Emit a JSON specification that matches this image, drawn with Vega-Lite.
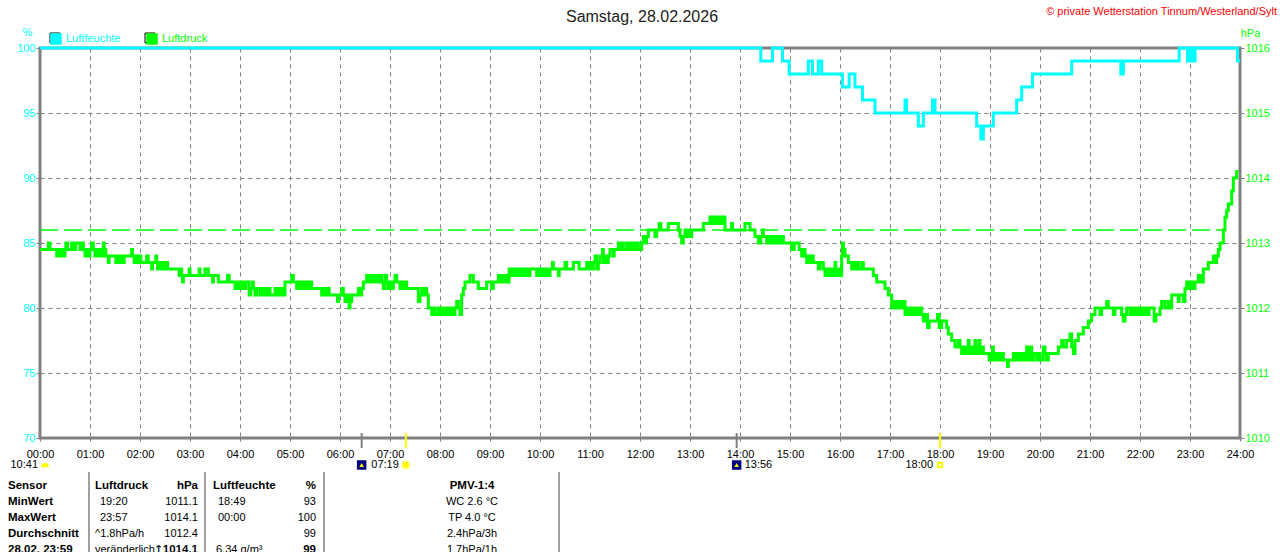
{
"$schema":"https://vega.github.io/schema/vega-lite/v6.json",
"autosize":{"type":"none"},
"width":1200,"height":390,
"padding":{"left":40,"top":48,"right":40,"bottom":114},
"background":"white",
"title":{"text":"Samstag, 28.02.2026","font":"Liberation Sans","fontSize":16,"fontWeight":"normal","color":"#222222","anchor":"middle","frame":"group","dx":2,"offset":-19},
"config":{"view":{"stroke":"#808080","strokeWidth":3},"font":"Liberation Sans"},
"datasets":{
"humidity":[{"t":0,"h":100},{"t":865,"h":99},{"t":879,"h":100},{"t":891,"h":99},{"t":899,"h":98},{"t":922,"h":99},{"t":927,"h":98},{"t":934,"h":99},{"t":938,"h":98},{"t":963,"h":97},{"t":971,"h":98},{"t":978,"h":97},{"t":987,"h":96},{"t":1002,"h":95},{"t":1038,"h":96},{"t":1040,"h":95},{"t":1054,"h":94},{"t":1060,"h":95},{"t":1071,"h":96},{"t":1074,"h":95},{"t":1124,"h":94},{"t":1129,"h":93},{"t":1132,"h":94},{"t":1144,"h":95},{"t":1172,"h":96},{"t":1178,"h":97},{"t":1191,"h":98},{"t":1238,"h":99},{"t":1297,"h":98},{"t":1300,"h":99},{"t":1367,"h":100},{"t":1377,"h":99},{"t":1379,"h":100},{"t":1380,"h":99},{"t":1382,"h":100},{"t":1384,"h":99},{"t":1386,"h":100},{"t":1437,"h":99},{"t":1440,"h":99}],
"pressure":[{"t":0,"p":1012.9},{"t":10,"p":1013.0},{"t":12,"p":1012.9},{"t":20,"p":1012.8},{"t":22,"p":1012.9},{"t":24,"p":1012.8},{"t":26,"p":1012.9},{"t":28,"p":1012.8},{"t":30,"p":1012.9},{"t":31,"p":1013.0},{"t":33,"p":1012.9},{"t":38,"p":1013.0},{"t":41,"p":1012.9},{"t":43,"p":1013.0},{"t":48,"p":1012.9},{"t":50,"p":1013.0},{"t":52,"p":1012.9},{"t":54,"p":1012.8},{"t":56,"p":1012.9},{"t":58,"p":1012.8},{"t":60,"p":1012.9},{"t":62,"p":1013.0},{"t":64,"p":1012.9},{"t":66,"p":1012.8},{"t":68,"p":1012.9},{"t":70,"p":1012.8},{"t":72,"p":1012.9},{"t":74,"p":1012.8},{"t":76,"p":1013.0},{"t":77,"p":1012.9},{"t":79,"p":1012.8},{"t":82,"p":1012.7},{"t":83,"p":1012.8},{"t":91,"p":1012.7},{"t":93,"p":1012.8},{"t":95,"p":1012.7},{"t":97,"p":1012.8},{"t":99,"p":1012.7},{"t":101,"p":1012.8},{"t":110,"p":1012.9},{"t":111,"p":1012.8},{"t":113,"p":1012.7},{"t":115,"p":1012.8},{"t":117,"p":1012.7},{"t":119,"p":1012.8},{"t":121,"p":1012.7},{"t":128,"p":1012.8},{"t":130,"p":1012.7},{"t":134,"p":1012.6},{"t":135,"p":1012.7},{"t":139,"p":1012.8},{"t":140,"p":1012.7},{"t":141,"p":1012.6},{"t":143,"p":1012.7},{"t":145,"p":1012.6},{"t":147,"p":1012.7},{"t":149,"p":1012.6},{"t":151,"p":1012.7},{"t":153,"p":1012.6},{"t":167,"p":1012.5},{"t":169,"p":1012.6},{"t":170,"p":1012.5},{"t":171,"p":1012.4},{"t":172,"p":1012.5},{"t":179,"p":1012.6},{"t":180,"p":1012.5},{"t":191,"p":1012.6},{"t":192,"p":1012.5},{"t":198,"p":1012.6},{"t":202,"p":1012.5},{"t":207,"p":1012.4},{"t":208,"p":1012.5},{"t":214,"p":1012.4},{"t":225,"p":1012.5},{"t":227,"p":1012.4},{"t":234,"p":1012.3},{"t":235,"p":1012.4},{"t":237,"p":1012.3},{"t":239,"p":1012.4},{"t":241,"p":1012.3},{"t":243,"p":1012.4},{"t":245,"p":1012.3},{"t":247,"p":1012.4},{"t":251,"p":1012.2},{"t":253,"p":1012.3},{"t":255,"p":1012.4},{"t":256,"p":1012.3},{"t":258,"p":1012.2},{"t":260,"p":1012.3},{"t":264,"p":1012.2},{"t":267,"p":1012.3},{"t":270,"p":1012.2},{"t":273,"p":1012.3},{"t":276,"p":1012.2},{"t":282,"p":1012.3},{"t":285,"p":1012.2},{"t":288,"p":1012.3},{"t":291,"p":1012.2},{"t":294,"p":1012.4},{"t":302,"p":1012.5},{"t":304,"p":1012.4},{"t":308,"p":1012.3},{"t":311,"p":1012.4},{"t":314,"p":1012.3},{"t":317,"p":1012.4},{"t":320,"p":1012.3},{"t":323,"p":1012.4},{"t":326,"p":1012.3},{"t":338,"p":1012.2},{"t":340,"p":1012.3},{"t":342,"p":1012.2},{"t":345,"p":1012.3},{"t":347,"p":1012.2},{"t":357,"p":1012.1},{"t":358,"p":1012.2},{"t":362,"p":1012.3},{"t":364,"p":1012.2},{"t":366,"p":1012.1},{"t":368,"p":1012.2},{"t":371,"p":1012.0},{"t":372,"p":1012.1},{"t":374,"p":1012.2},{"t":382,"p":1012.3},{"t":384,"p":1012.2},{"t":386,"p":1012.3},{"t":388,"p":1012.4},{"t":392,"p":1012.5},{"t":395,"p":1012.4},{"t":397,"p":1012.5},{"t":400,"p":1012.4},{"t":402,"p":1012.5},{"t":405,"p":1012.4},{"t":407,"p":1012.5},{"t":410,"p":1012.4},{"t":412,"p":1012.3},{"t":414,"p":1012.5},{"t":416,"p":1012.4},{"t":418,"p":1012.3},{"t":420,"p":1012.4},{"t":422,"p":1012.3},{"t":424,"p":1012.4},{"t":426,"p":1012.5},{"t":428,"p":1012.4},{"t":432,"p":1012.3},{"t":434,"p":1012.4},{"t":436,"p":1012.3},{"t":438,"p":1012.4},{"t":440,"p":1012.3},{"t":454,"p":1012.1},{"t":456,"p":1012.2},{"t":458,"p":1012.3},{"t":460,"p":1012.2},{"t":462,"p":1012.3},{"t":464,"p":1012.2},{"t":466,"p":1012.0},{"t":470,"p":1011.9},{"t":472,"p":1012.0},{"t":474,"p":1011.9},{"t":478,"p":1012.0},{"t":480,"p":1011.9},{"t":482,"p":1012.0},{"t":485,"p":1011.9},{"t":488,"p":1012.0},{"t":490,"p":1011.9},{"t":493,"p":1012.0},{"t":496,"p":1011.9},{"t":498,"p":1012.0},{"t":500,"p":1012.1},{"t":502,"p":1012.0},{"t":504,"p":1011.9},{"t":506,"p":1012.2},{"t":508,"p":1012.3},{"t":510,"p":1012.4},{"t":516,"p":1012.5},{"t":520,"p":1012.4},{"t":526,"p":1012.3},{"t":536,"p":1012.4},{"t":542,"p":1012.3},{"t":544,"p":1012.4},{"t":550,"p":1012.5},{"t":552,"p":1012.4},{"t":554,"p":1012.5},{"t":556,"p":1012.4},{"t":558,"p":1012.5},{"t":560,"p":1012.4},{"t":563,"p":1012.6},{"t":565,"p":1012.5},{"t":567,"p":1012.6},{"t":569,"p":1012.5},{"t":571,"p":1012.6},{"t":573,"p":1012.5},{"t":575,"p":1012.6},{"t":577,"p":1012.5},{"t":579,"p":1012.6},{"t":581,"p":1012.5},{"t":583,"p":1012.6},{"t":585,"p":1012.5},{"t":588,"p":1012.6},{"t":596,"p":1012.5},{"t":598,"p":1012.6},{"t":600,"p":1012.5},{"t":603,"p":1012.6},{"t":605,"p":1012.5},{"t":608,"p":1012.6},{"t":610,"p":1012.5},{"t":612,"p":1012.6},{"t":615,"p":1012.7},{"t":616,"p":1012.6},{"t":622,"p":1012.5},{"t":623,"p":1012.6},{"t":630,"p":1012.7},{"t":632,"p":1012.6},{"t":640,"p":1012.7},{"t":647,"p":1012.6},{"t":656,"p":1012.7},{"t":658,"p":1012.6},{"t":660,"p":1012.7},{"t":662,"p":1012.6},{"t":664,"p":1012.7},{"t":666,"p":1012.8},{"t":668,"p":1012.6},{"t":670,"p":1012.7},{"t":672,"p":1012.8},{"t":675,"p":1012.9},{"t":676,"p":1012.7},{"t":678,"p":1012.8},{"t":680,"p":1012.7},{"t":682,"p":1012.8},{"t":684,"p":1012.9},{"t":688,"p":1012.8},{"t":689,"p":1012.9},{"t":694,"p":1013.0},{"t":696,"p":1012.9},{"t":698,"p":1013.0},{"t":700,"p":1012.9},{"t":704,"p":1013.0},{"t":707,"p":1012.9},{"t":710,"p":1013.0},{"t":713,"p":1012.9},{"t":716,"p":1013.0},{"t":718,"p":1012.9},{"t":722,"p":1013.0},{"t":724,"p":1013.1},{"t":726,"p":1013.0},{"t":728,"p":1013.1},{"t":730,"p":1013.2},{"t":738,"p":1013.1},{"t":740,"p":1013.2},{"t":743,"p":1013.3},{"t":745,"p":1013.2},{"t":754,"p":1013.3},{"t":766,"p":1013.2},{"t":768,"p":1013.1},{"t":770,"p":1013.0},{"t":772,"p":1013.1},{"t":774,"p":1013.2},{"t":776,"p":1013.1},{"t":778,"p":1013.2},{"t":780,"p":1013.1},{"t":782,"p":1013.2},{"t":796,"p":1013.3},{"t":804,"p":1013.4},{"t":807,"p":1013.3},{"t":809,"p":1013.4},{"t":812,"p":1013.3},{"t":814,"p":1013.4},{"t":817,"p":1013.3},{"t":820,"p":1013.4},{"t":822,"p":1013.2},{"t":830,"p":1013.3},{"t":831,"p":1013.2},{"t":846,"p":1013.3},{"t":852,"p":1013.2},{"t":858,"p":1013.1},{"t":862,"p":1013.0},{"t":865,"p":1013.1},{"t":867,"p":1013.2},{"t":868,"p":1013.1},{"t":872,"p":1013.0},{"t":875,"p":1013.1},{"t":878,"p":1013.0},{"t":880,"p":1013.1},{"t":883,"p":1013.0},{"t":885,"p":1013.1},{"t":888,"p":1013.0},{"t":890,"p":1013.1},{"t":892,"p":1013.0},{"t":902,"p":1012.9},{"t":905,"p":1013.0},{"t":911,"p":1012.9},{"t":914,"p":1012.8},{"t":916,"p":1012.9},{"t":918,"p":1012.8},{"t":920,"p":1012.7},{"t":922,"p":1012.8},{"t":924,"p":1012.7},{"t":926,"p":1012.8},{"t":928,"p":1012.7},{"t":934,"p":1012.6},{"t":936,"p":1012.7},{"t":940,"p":1012.6},{"t":942,"p":1012.5},{"t":945,"p":1012.6},{"t":947,"p":1012.5},{"t":950,"p":1012.6},{"t":952,"p":1012.5},{"t":954,"p":1012.7},{"t":955,"p":1012.5},{"t":958,"p":1012.6},{"t":960,"p":1012.5},{"t":962,"p":1012.8},{"t":963,"p":1013.0},{"t":964,"p":1012.9},{"t":966,"p":1012.8},{"t":970,"p":1012.7},{"t":974,"p":1012.6},{"t":976,"p":1012.7},{"t":978,"p":1012.6},{"t":981,"p":1012.7},{"t":983,"p":1012.6},{"t":987,"p":1012.7},{"t":988,"p":1012.6},{"t":1000,"p":1012.5},{"t":1004,"p":1012.4},{"t":1014,"p":1012.3},{"t":1018,"p":1012.2},{"t":1022,"p":1012.0},{"t":1024,"p":1012.1},{"t":1026,"p":1012.0},{"t":1028,"p":1012.1},{"t":1030,"p":1012.0},{"t":1032,"p":1012.1},{"t":1034,"p":1012.0},{"t":1036,"p":1012.1},{"t":1038,"p":1011.9},{"t":1040,"p":1012.0},{"t":1042,"p":1011.9},{"t":1044,"p":1012.0},{"t":1046,"p":1011.9},{"t":1048,"p":1012.0},{"t":1050,"p":1011.9},{"t":1052,"p":1012.0},{"t":1054,"p":1011.9},{"t":1056,"p":1012.0},{"t":1058,"p":1011.9},{"t":1060,"p":1011.8},{"t":1063,"p":1011.9},{"t":1065,"p":1011.7},{"t":1067,"p":1011.8},{"t":1077,"p":1011.9},{"t":1079,"p":1011.7},{"t":1082,"p":1011.8},{"t":1088,"p":1011.7},{"t":1090,"p":1011.6},{"t":1094,"p":1011.5},{"t":1098,"p":1011.4},{"t":1102,"p":1011.5},{"t":1104,"p":1011.4},{"t":1106,"p":1011.3},{"t":1108,"p":1011.4},{"t":1110,"p":1011.3},{"t":1112,"p":1011.4},{"t":1114,"p":1011.5},{"t":1115,"p":1011.3},{"t":1118,"p":1011.4},{"t":1120,"p":1011.3},{"t":1122,"p":1011.5},{"t":1123,"p":1011.3},{"t":1125,"p":1011.4},{"t":1127,"p":1011.5},{"t":1128,"p":1011.3},{"t":1130,"p":1011.4},{"t":1132,"p":1011.3},{"t":1139,"p":1011.2},{"t":1141,"p":1011.3},{"t":1143,"p":1011.4},{"t":1144,"p":1011.2},{"t":1146,"p":1011.3},{"t":1148,"p":1011.2},{"t":1150,"p":1011.3},{"t":1152,"p":1011.2},{"t":1154,"p":1011.3},{"t":1156,"p":1011.2},{"t":1161,"p":1011.1},{"t":1162,"p":1011.2},{"t":1168,"p":1011.3},{"t":1170,"p":1011.2},{"t":1172,"p":1011.3},{"t":1174,"p":1011.2},{"t":1176,"p":1011.3},{"t":1178,"p":1011.2},{"t":1180,"p":1011.3},{"t":1182,"p":1011.2},{"t":1184,"p":1011.4},{"t":1186,"p":1011.2},{"t":1188,"p":1011.4},{"t":1190,"p":1011.2},{"t":1192,"p":1011.3},{"t":1196,"p":1011.2},{"t":1198,"p":1011.3},{"t":1200,"p":1011.2},{"t":1204,"p":1011.4},{"t":1206,"p":1011.3},{"t":1208,"p":1011.2},{"t":1210,"p":1011.3},{"t":1222,"p":1011.4},{"t":1226,"p":1011.5},{"t":1228,"p":1011.4},{"t":1232,"p":1011.5},{"t":1236,"p":1011.6},{"t":1238,"p":1011.4},{"t":1240,"p":1011.3},{"t":1242,"p":1011.5},{"t":1246,"p":1011.6},{"t":1252,"p":1011.7},{"t":1258,"p":1011.8},{"t":1262,"p":1011.9},{"t":1266,"p":1012.0},{"t":1272,"p":1011.9},{"t":1274,"p":1012.0},{"t":1280,"p":1012.1},{"t":1282,"p":1012.0},{"t":1288,"p":1011.9},{"t":1290,"p":1012.0},{"t":1298,"p":1011.9},{"t":1300,"p":1011.8},{"t":1302,"p":1011.9},{"t":1304,"p":1012.0},{"t":1308,"p":1011.9},{"t":1311,"p":1012.0},{"t":1313,"p":1011.9},{"t":1316,"p":1012.0},{"t":1318,"p":1011.9},{"t":1321,"p":1012.0},{"t":1323,"p":1011.9},{"t":1326,"p":1012.0},{"t":1328,"p":1011.9},{"t":1331,"p":1012.0},{"t":1337,"p":1011.8},{"t":1339,"p":1011.9},{"t":1344,"p":1012.0},{"t":1346,"p":1012.1},{"t":1350,"p":1012.0},{"t":1354,"p":1012.1},{"t":1356,"p":1012.0},{"t":1358,"p":1012.2},{"t":1366,"p":1012.1},{"t":1367,"p":1012.2},{"t":1372,"p":1012.1},{"t":1374,"p":1012.3},{"t":1376,"p":1012.4},{"t":1379,"p":1012.3},{"t":1381,"p":1012.4},{"t":1384,"p":1012.3},{"t":1386,"p":1012.4},{"t":1390,"p":1012.5},{"t":1393,"p":1012.4},{"t":1396,"p":1012.6},{"t":1402,"p":1012.7},{"t":1408,"p":1012.8},{"t":1410,"p":1012.7},{"t":1412,"p":1012.8},{"t":1414,"p":1012.9},{"t":1416,"p":1013.0},{"t":1420,"p":1013.2},{"t":1422,"p":1013.4},{"t":1424,"p":1013.5},{"t":1426,"p":1013.6},{"t":1430,"p":1013.8},{"t":1432,"p":1014.0},{"t":1436,"p":1014.1},{"t":1438,"p":1014.1}],
"trend":[{"t":0,"p":1013.2},{"t":1422,"p":1013.2}],
"sunTicks":[{"t":439,"from":1,"to":2},{"t":1080,"from":1,"to":2}],
"moonTicks":[{"t":386,"from":1,"to":2},{"t":836,"from":1,"to":2}],
"eventsBefore":[{"t":6,"line":3,"text":"10:41"},{"t":439,"line":3,"text":"07:19"},{"t":1080,"line":3,"text":"18:00"}],
"eventsAfter":[{"t":836,"line":3,"text":"13:56"}],
"moonIcons":[{"t":386,"line":3},{"t":836,"line":3}],
"swatches":[{"t":18,"line":0},{"t":132,"line":0}],
"separators":[{"col":2,"from":4,"to":10},{"col":7,"from":4,"to":10},{"col":12,"from":4,"to":10},{"col":14,"from":4,"to":10}],
"leftBold":[{"col":1,"line":5,"text":"Sensor"},{"col":1,"line":6,"text":"MinWert"},{"col":1,"line":7,"text":"MaxWert"},{"col":1,"line":8,"text":"Durchschnitt"},{"col":1,"line":9,"text":"28.02. 23:59"},{"col":3,"line":5,"text":"Luftdruck"},{"col":8,"line":5,"text":"Luftfeuchte"}],
"leftPlain":[{"col":4,"line":6,"text":"19:20"},{"col":4,"line":7,"text":"23:57"},{"col":3,"line":8,"text":"^1.8hPa/h"},{"col":3,"line":9,"text":"veränderlich"},{"col":10,"line":6,"text":"18:49"},{"col":10,"line":7,"text":"00:00"},{"col":9,"line":9,"text":"6.34 g/m³"}],
"arrow":[{"col":5,"line":9,"text":"↑"}],
"rightBold":[{"col":6,"line":5,"text":"hPa"},{"col":6,"line":9,"text":"1014.1"},{"col":11,"line":5,"text":"%"},{"col":11,"line":9,"text":"99"}],
"rightPlain":[{"col":6,"line":6,"text":"1011.1"},{"col":6,"line":7,"text":"1014.1"},{"col":6,"line":8,"text":"1012.4"},{"col":11,"line":6,"text":"93"},{"col":11,"line":7,"text":"100"},{"col":11,"line":8,"text":"99"}],
"midBold":[{"col":13,"line":5,"text":"PMV-1:4"}],
"midPlain":[{"col":13,"line":6,"text":"WC 2.6 °C"},{"col":13,"line":7,"text":"TP 4.0 °C"},{"col":13,"line":8,"text":"2.4hPa/3h"},{"col":13,"line":9,"text":"1.7hPa/1h"}],
"credit":[{"col":15,"line":0,"text":"© private Wetterstation Tinnum/Westerland/Sylt"}]
},
"layer":[
{
"layer":[
{"data":{"name":"trend"},"mark":{"type":"line","color":"#00ff00","strokeWidth":1.5,"strokeDash":[18,6]},
"encoding":{
"x":{"field":"t","type":"quantitative","scale":{"domain":[0,1440],"nice":false},
"axis":{"values":[0,60,120,180,240,300,360,420,480,540,600,660,720,780,840,900,960,1020,1080,1140,1200,1260,1320,1380,1440],"title":null,"domain":false,"labelExpr":"(datum.value<600?'0':'')+floor(datum.value/60)+':00'","labelFont":"Liberation Sans","labelFontSize":11,"labelColor":"black","labelPadding":4,"labelAngle":0,"labelFlush":false,"labelOverlap":false,"tickColor":"#808080","tickDash":[3,3],"tickSize":6,"grid":true,"gridColor":"#808080","gridDash":[4,4],"gridWidth":1,"gridOpacity":1}},
"y":{"field":"p","type":"quantitative","scale":{"domain":[1010,1016],"nice":false},"axis":null}}},
{"data":{"name":"humidity"},"mark":{"type":"line","interpolate":"step-after","strokeWidth":3,"strokeJoin":"miter"},
"encoding":{
"x":{"field":"t","type":"quantitative"},
"y":{"field":"h","type":"quantitative","scale":{"domain":[70,100],"nice":false},
"axis":{"orient":"left","values":[70,75,80,85,90,95,100],"title":"%","titleAngle":0,"titleColor":"#00ffff","titleFont":"Liberation Sans","titleFontSize":11,"titleFontWeight":"normal","titleX":-13,"titleY":-11,"domain":false,"labelColor":"#00ffff","labelFont":"Liberation Sans","labelFontSize":11,"labelPadding":1,"tickColor":"#808080","tickSize":4,"grid":true,"gridColor":"#808080","gridDash":[4,4],"gridWidth":1,"gridOpacity":1}},
"color":{"datum":"Luftfeuchte","type":"nominal","scale":{"domain":["Luftfeuchte","Luftdruck"],"range":["#00ffff","#00ff00"]},
"legend":{"title":null,"orient":"none","legendX":10,"legendY":-15,"direction":"horizontal","symbolType":"square","symbolSize":100,"columnPadding":23,"labelFont":"Liberation Sans","labelFontSize":11,"labelOffset":4,"labelColor":{"expr":"datum.label=='Luftdruck'?'#00ff00':'#00ffff'"},
"encode":{"symbols":{"update":{"fill":{"signal":"datum.label=='Luftdruck'?'#00ff00':'#00ffff'"},"opacity":{"value":1}}}}}}
}},
{"data":{"name":"pressure"},"mark":{"type":"line","interpolate":"step-after","strokeWidth":3,"strokeJoin":"miter"},
"encoding":{
"x":{"field":"t","type":"quantitative"},
"y":{"field":"p","type":"quantitative","scale":{"domain":[1010,1016],"nice":false},
"axis":{"orient":"right","values":[1010,1011,1012,1013,1014,1015,1016],"format":"d","title":"hPa","titleAngle":0,"titleColor":"#00ff00","titleFont":"Liberation Sans","titleFontSize":11,"titleFontWeight":"normal","titleX":10,"titleY":-10,"domain":false,"grid":false,"labelColor":"#00ff00","labelFont":"Liberation Sans","labelFontSize":11,"labelPadding":1,"tickColor":"#808080","tickSize":4}},
"color":{"datum":"Luftdruck","type":"nominal"}
}},
{
"layer":[
{"data":{"name":"moonTicks"},"mark":{"type":"rule","color":"#808080","strokeWidth":2},
"encoding":{"x":{"field":"t","type":"quantitative"},"y":{"field":"from","type":"quantitative","scale":{"domain":[0,1,2,3],"range":[-10,385,400,417]},"axis":null},"y2":{"field":"to"}}},
{"data":{"name":"sunTicks"},"mark":{"type":"rule","color":"#ffff00","strokeWidth":2},
"encoding":{"x":{"field":"t","type":"quantitative"},"y":{"field":"from","type":"quantitative"},"y2":{"field":"to"}}},
{"data":{"name":"swatches"},"mark":{"type":"point","shape":"square","filled":false,"color":"black","strokeWidth":1,"size":100,"opacity":1},
"encoding":{"x":{"field":"t","type":"quantitative"},"y":{"field":"line","type":"quantitative"}}},
{"data":{"name":"eventsBefore"},"mark":{"type":"text","align":"right","baseline":"middle","dx":-7,"font":"Liberation Sans","fontSize":11,"color":"black"},
"encoding":{"x":{"field":"t","type":"quantitative"},"y":{"field":"line","type":"quantitative"},"text":{"field":"text"}}},
{"data":{"name":"eventsAfter"},"mark":{"type":"text","align":"left","baseline":"middle","dx":8,"font":"Liberation Sans","fontSize":11,"color":"black"},
"encoding":{"x":{"field":"t","type":"quantitative"},"y":{"field":"line","type":"quantitative"},"text":{"field":"text"}}},
{"data":{"name":"moonIcons"},"mark":{"type":"point","shape":"square","filled":true,"color":"#000080","size":90,"opacity":1},
"encoding":{"x":{"field":"t","type":"quantitative"},"y":{"field":"line","type":"quantitative"}}},
{"data":{"name":"moonIcons"},"mark":{"type":"point","shape":"triangle-up","filled":true,"color":"#ffff00","size":22,"opacity":1},
"encoding":{"x":{"field":"t","type":"quantitative"},"y":{"field":"line","type":"quantitative"}}},
{"data":{"values":[{"t":439,"line":3}]},"mark":{"type":"point","shape":"circle","filled":true,"color":"#ffffb0","size":100,"opacity":1},
"encoding":{"x":{"field":"t","type":"quantitative"},"y":{"field":"line","type":"quantitative"}}},
{"data":{"values":[{"t":439,"line":3}]},"mark":{"type":"point","shape":"circle","filled":true,"color":"#ffff00","size":40,"opacity":1},
"encoding":{"x":{"field":"t","type":"quantitative"},"y":{"field":"line","type":"quantitative"}}},
{"data":{"values":[{"t":1080,"line":3}]},"mark":{"type":"point","shape":"square","filled":false,"color":"#ffff00","size":20,"opacity":1},
"encoding":{"x":{"field":"t","type":"quantitative"},"y":{"field":"line","type":"quantitative"}}},
{"data":{"values":[{"t":6,"line":3}]},"mark":{"type":"point","shape":"M-1,0.6L-1,0.1L-0.4,-0.5L0.4,-0.5L1,0.1L1,0.6Z","filled":true,"color":"#ffff00","size":60,"opacity":1},
"encoding":{"x":{"field":"t","type":"quantitative"},"y":{"field":"line","type":"quantitative"}}}
],
"resolve":{"scale":{"y":"shared"}}
}
],
"resolve":{"scale":{"y":"independent"},"axis":{"y":"independent"}}
},
{
"layer":[
{"data":{"name":"separators"},"mark":{"type":"rule","color":"#a0a0a0","strokeWidth":2},
"encoding":{"x":{"field":"col","type":"quantitative","axis":null,"scale":{"domain":[1,2,3,4,5,6,7,8,9,10,11,12,13,14,15],"range":[-32,49,55,60,114,158,165,173,176,178,276,284,432,519,1237]}},
"y":{"field":"from","type":"quantitative","axis":null,"scale":{"domain":[0,4,5,6,7,8,9,10],"range":[-36,424,438,454,470,486,502,504]}},"y2":{"field":"to"}}},
{"data":{"name":"leftBold"},"mark":{"type":"text","align":"left","baseline":"middle","font":"Liberation Sans","fontSize":11.5,"fontWeight":"bold","color":"black"},
"encoding":{"x":{"field":"col","type":"quantitative"},"y":{"field":"line","type":"quantitative"},"text":{"field":"text"}}},
{"data":{"name":"leftPlain"},"mark":{"type":"text","align":"left","baseline":"middle","font":"Liberation Sans","fontSize":11,"color":"black"},
"encoding":{"x":{"field":"col","type":"quantitative"},"y":{"field":"line","type":"quantitative"},"text":{"field":"text"}}},
{"data":{"name":"arrow"},"mark":{"type":"text","align":"left","baseline":"middle","font":"DejaVu Sans","fontSize":11,"fontWeight":"bold","color":"#102040"},
"encoding":{"x":{"field":"col","type":"quantitative"},"y":{"field":"line","type":"quantitative"},"text":{"field":"text"}}},
{"data":{"name":"rightBold"},"mark":{"type":"text","align":"right","baseline":"middle","font":"Liberation Sans","fontSize":11.5,"fontWeight":"bold","color":"black"},
"encoding":{"x":{"field":"col","type":"quantitative"},"y":{"field":"line","type":"quantitative"},"text":{"field":"text"}}},
{"data":{"name":"rightPlain"},"mark":{"type":"text","align":"right","baseline":"middle","font":"Liberation Sans","fontSize":11,"color":"black"},
"encoding":{"x":{"field":"col","type":"quantitative"},"y":{"field":"line","type":"quantitative"},"text":{"field":"text"}}},
{"data":{"name":"midBold"},"mark":{"type":"text","align":"center","baseline":"middle","font":"Liberation Sans","fontSize":11.5,"fontWeight":"bold","color":"black"},
"encoding":{"x":{"field":"col","type":"quantitative"},"y":{"field":"line","type":"quantitative"},"text":{"field":"text"}}},
{"data":{"name":"midPlain"},"mark":{"type":"text","align":"center","baseline":"middle","font":"Liberation Sans","fontSize":11,"color":"black"},
"encoding":{"x":{"field":"col","type":"quantitative"},"y":{"field":"line","type":"quantitative"},"text":{"field":"text"}}},
{"data":{"name":"credit"},"mark":{"type":"text","align":"right","baseline":"middle","font":"Liberation Sans","fontSize":11,"color":"#ff0000"},
"encoding":{"x":{"field":"col","type":"quantitative"},"y":{"field":"line","type":"quantitative"},"text":{"field":"text"}}}
]
}
],
"resolve":{"scale":{"x":"independent","y":"independent"},"axis":{"x":"independent","y":"independent"}}
}
